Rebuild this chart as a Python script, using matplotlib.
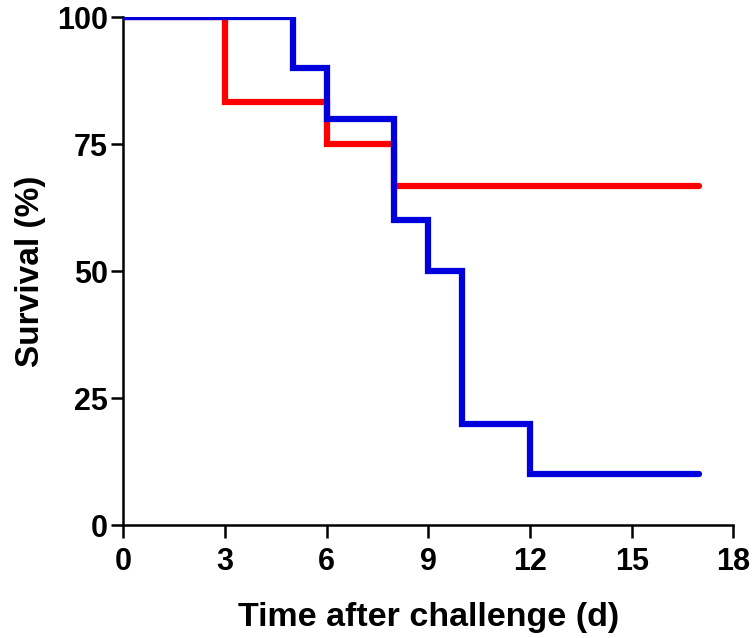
"""Kaplan-Meier style survival curves after challenge (two groups)."""

import matplotlib

matplotlib.use("Agg")
import matplotlib.pyplot as plt

plt.rcParams["font.family"] = ["Liberation Sans", "DejaVu Sans"]
plt.rcParams["font.weight"] = "bold"

# step points: time (d) where survival changes, survival (%) from that time on
red_days = [0, 3, 6, 8, 17]
red_surv = [100, 83.33, 75, 66.67, 66.67]
blue_days = [0, 5, 6, 8, 9, 10, 12, 17]
blue_surv = [100, 90, 80, 60, 50, 20, 10, 10]

x_ticks = [0, 3, 6, 9, 12, 15, 18]
y_ticks = [0, 25, 50, 75, 100]

fig = plt.figure(figsize=(7.56, 6.38), dpi=100)
ax = fig.add_axes([0.163, 0.177, 0.807, 0.796])

ax.step(red_days, red_surv, where="post", color="#FF0000", lw=4.5,
        solid_capstyle="round", solid_joinstyle="miter", zorder=2)
ax.step(blue_days, blue_surv, where="post", color="#0000DD", lw=4.5,
        solid_capstyle="round", solid_joinstyle="miter", zorder=3)

ax.set_xlim(0, 18)
ax.set_ylim(0, 100)
ax.set_xticks(x_ticks)
ax.set_yticks(y_ticks)
for side in ("top", "right"):
    ax.spines[side].set_visible(False)
for side in ("left", "bottom"):
    ax.spines[side].set_linewidth(1.8)
ax.tick_params(direction="out", length=9, width=1.8, labelsize=22)
ax.tick_params(axis="x", pad=7)
ax.tick_params(axis="y", pad=2)
for lbl in ax.get_xticklabels() + ax.get_yticklabels():
    lbl.set_fontweight("bold")

ax.set_xlabel("Time after challenge (d)", fontsize=24.5, fontweight="bold",
              labelpad=18)
ax.set_ylabel("Survival (%)", fontsize=24, fontweight="bold", labelpad=8)
for s in ax.spines.values():
    s.set_clip_on(False)

fig.savefig("out.png", dpi=100)
